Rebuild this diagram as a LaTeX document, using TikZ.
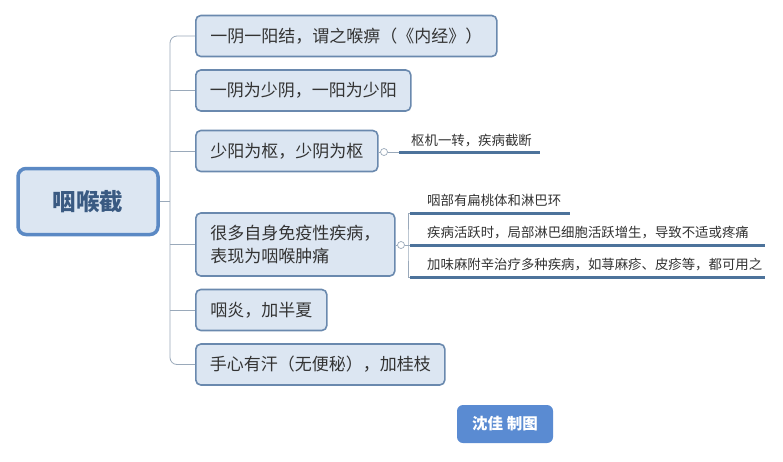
\documentclass[tikz,border=0pt]{standalone}
\usepackage{fontspec}
\setmainfont{Noto Sans CJK SC}
\definecolor{boxfill}{HTML}{DCE6F2}
\definecolor{boxdraw}{HTML}{6A89AE}
\definecolor{rootdraw}{HTML}{5B89C4}
\definecolor{roottext}{HTML}{3A5A82}
\definecolor{conncol}{HTML}{9AA9BA}
\definecolor{ulcol}{HTML}{4D739B}
\definecolor{txt}{HTML}{333333}
\definecolor{footfill}{HTML}{5A8BD2}
\begin{document}
\begin{tikzpicture}[x=1pt,y=-1pt,
  box/.style={draw=boxdraw, line width=1.6pt, fill=boxfill, rounded corners=5pt,
    anchor=west, minimum height=41pt, inner xsep=0pt, font=\fontsize{17}{22.5}\selectfont, text=txt},
  root/.style={draw=rootdraw, line width=3.5pt, fill=boxfill, rounded corners=8pt,
    minimum width=140pt, minimum height=66pt, font=\fontsize{23.5}{28}\selectfont\bfseries, text=roottext},
  conn/.style={draw=conncol, line width=0.8pt},
  uline/.style={draw=ulcol, line width=3pt},
  small/.style={font=\fontsize{13.4}{16}\selectfont, text=txt, inner sep=0pt, anchor=base west},
  knob/.style={circle, draw=conncol, fill=white, line width=0.7pt, minimum size=7pt, inner sep=0pt}]
\useasboundingbox (0,0) rectangle (783,461);
\fill[white] (0,0) rectangle (783,461);

\node[root] (c) at (88,201.5) {咽喉截};

\node[box, minimum width=301pt] (b1) at (195,36) {一阴一阳结，谓之喉痹（《内经》）};
\node[box, minimum width=215pt] (b2) at (195,90.5) {一阴为少阴，一阳为少阳};
\node[box, minimum width=182pt] (b3) at (195,151) {少阳为枢，少阴为枢};
\node[box, minimum width=199pt, minimum height=63pt, align=left] (b4) at (195,244.5)
  {很多自身免疫性疾病，\\表现为咽喉肿痛};
\node[box, minimum width=131pt] (b5) at (195,310) {咽炎，加半夏};
\node[box, minimum width=249pt] (b6) at (195,364.5) {手心有汗（无便秘），加桂枝};

\coordinate (j) at (170,201.5);
\draw[conn] (c.east) -- (j);
\draw[conn, rounded corners=7pt] (b1.west) -| (j) |- (b6.west);
\foreach \b in {b2,b3,b4,b5} \draw[conn] (\b.west) -- (\b.west -| j);

% box 3 child
\node[knob] (k3) at (384,152) {};
\draw[conn] (b3.east |- k3) -- (k3.west);
\coordinate (u3a) at (399,152);
\coordinate (u3b) at (540,152);
\draw[conn] (k3.east) -- (u3a);
\draw[uline] (u3a) -- (u3b);
\node[small] (t3) at (411,145) {枢机一转，疾病截断};

% box 4 children
\node[knob] (k4) at (401,245) {};
\draw[conn] (b4.east |- k4) -- (k4.west);
\coordinate (v4) at (408,245);
\coordinate (u41a) at (410,213);
\coordinate (u41b) at (570,213);
\coordinate (u42a) at (410,245);
\coordinate (u42b) at (765,245);
\coordinate (u43a) at (410,277);
\coordinate (u43b) at (765,277);
\draw[conn] (k4.east) -- (u42a);
\draw[conn] (u41a) -| (v4) |- (u43a);
\draw[uline] (u41a) -- (u41b);
\draw[uline] (u42a) -- (u42b);
\draw[uline] (u43a) -- (u43b);
\node[small] (t41) at (427,205) {咽部有扁桃体和淋巴环};
\node[small] (t42) at (427,237) {疾病活跃时，局部淋巴细胞活跃增生，导致不适或疼痛};
\node[small] (t43) at (427,269) {加味麻附辛治疗多种疾病，如荨麻疹、皮疹等，都可用之};

% footer
\node[fill=footfill, rounded corners=6pt, minimum width=96pt, minimum height=38pt,
  text=white, font=\fontsize{15.5}{19}\selectfont\bfseries] (f) at (505,424) {沈佳 制图};
\end{tikzpicture}
\end{document}
